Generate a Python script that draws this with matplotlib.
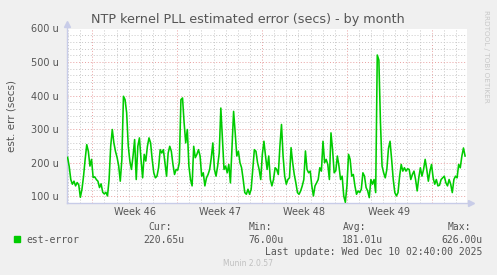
import matplotlib
matplotlib.use("Agg")
import matplotlib.pyplot as plt
import matplotlib.dates as mdates
import matplotlib.transforms as mtransforms
import numpy as np
import pandas as pd

# est. error in microseconds, ~3h steps
est_error = [
    216, 189, 150, 136, 145, 131, 141, 134, 97, 121, 160, 210, 254, 234, 190, 210, 156, 158, 150, 145, 126,
    137, 112, 107, 112, 101, 150, 249, 299, 259, 234, 216, 191, 145, 210, 398, 388, 349, 250, 205, 180, 220,
    269, 150, 249, 274, 210, 155, 225, 205, 249, 274, 259, 210, 170, 155, 160, 185, 239, 229, 239, 200, 160,
    229, 249, 234, 195, 165, 180, 178, 200, 388, 393, 319, 259, 299, 190, 150, 131, 249, 215, 225, 239,
    220, 160, 170, 131, 155, 165, 180, 214, 259, 180, 160, 190, 229, 363, 269, 180, 190, 170, 195, 140, 249,
    353, 289, 220, 234, 200, 185, 150, 111, 106, 121, 106, 121, 180, 239, 234, 200, 180, 150, 225, 264,
    220, 180, 220, 150, 131, 150, 185, 180, 165, 249, 314, 220, 160, 136, 150, 155, 245, 200, 165, 140, 111,
    106, 116, 131, 150, 235, 180, 170, 175, 131, 101, 131, 140, 150, 185, 175, 264, 200, 210, 195,
    150, 289, 239, 170, 176, 220, 190, 150, 160, 101, 82, 131, 225, 210, 160, 165, 131, 106, 116, 111, 121,
    170, 160, 126, 116, 96, 150, 136, 150, 111, 521, 506, 319, 190, 170, 155, 180, 242, 264, 210, 150, 111,
    101, 111, 160, 195, 175, 185, 175, 182, 180, 150, 165, 175, 150, 116, 155, 185, 160, 180, 210, 180, 145,
    175, 195, 155, 136, 150, 131, 133, 150, 155, 160, 140, 131, 150, 136, 111, 150, 160, 155, 195, 185, 220,
    244, 220,
]
data_start = "2025-11-06 23:00"
data_end = "2025-12-09 18:00"
view_start = "2025-11-06 21:50"
view_end = "2025-12-09 21:50"

legend_label = "est-error"
stats_heads = ["Cur:", "Min:", "Avg:", "Max:"]
stats_vals = ["220.65u", "76.00u", "181.01u", "626.00u"]
last_update = "Last update: Wed Dec 10 02:40:00 2025"

W, H = 497, 275
BG = "#f0f0f0"
TXT = "#555555"
AXC = "#c8cce8"
GREEN = "#00cc00"

times = pd.date_range(data_start, data_end, periods=len(est_error))

fig = plt.figure(figsize=(W / 100, H / 100), dpi=100, facecolor=BG)
ax = fig.add_axes([67 / W, (H - 203) / H, 400 / W, 174.5 / H])
ax.set_facecolor("white")

ax.plot(times, est_error, color=GREEN, lw=1.15, zorder=3)

ax.set_xlim(pd.Timestamp(view_start), pd.Timestamp(view_end))
ax.set_ylim(80, 600)

# grids: minor grey, major red
ax.yaxis.set_major_locator(plt.MultipleLocator(100))
ax.yaxis.set_minor_locator(plt.MultipleLocator(20))
ax.yaxis.set_major_formatter(plt.FuncFormatter(lambda v, p: f"{int(v)} u"))
ax.xaxis.set_major_locator(mdates.WeekdayLocator(byweekday=mdates.SU))
ax.xaxis.set_minor_locator(mdates.DayLocator())
ax.xaxis.set_major_formatter(plt.NullFormatter())

ax.grid(which="minor", color="#c8c8c8", ls=(0, (1, 2)), lw=0.7, zorder=1)
ax.grid(which="major", color="#e8a0a0", ls=(0, (1, 2)), lw=0.7, zorder=2)
ax.tick_params(which="both", length=0)
ax.tick_params(axis="y", labelsize=7, labelcolor=TXT, pad=6)

for s in ("top", "right"):
    ax.spines[s].set_visible(False)
for s in ("left", "bottom"):
    ax.spines[s].set_color(AXC)
    ax.spines[s].set_linewidth(1.0)
ax.plot([0], [1.025], marker="^", ms=4, color=AXC, transform=ax.transAxes, clip_on=False)
ax.plot([1.01], [0], marker=">", ms=4, color=AXC, transform=ax.transAxes, clip_on=False)

# week labels centred in each week
trans = mtransforms.blended_transform_factory(ax.transData, ax.transAxes)
for sun in pd.date_range(view_start, view_end, freq="W-SUN"):
    mid = sun.normalize() + pd.Timedelta(hours=84)
    if pd.Timestamp(view_start) < mid < pd.Timestamp(view_end):
        ax.text(mid, -0.05, "Week %s" % mid.strftime("%V"), transform=trans, ha="center",
                va="center", fontsize=7, color=TXT)

ax.set_ylabel("est. err (secs)", fontsize=7.5, color=TXT, labelpad=10)

fig.text(248 / W, 1 - 19 / H, "NTP kernel PLL estimated error (secs) - by month",
         ha="center", va="center", fontsize=9.2, color=TXT)
fig.text(486 / W, 1 - 56 / H, "RRDTOOL / TOBI OETIKER", rotation=270, ha="center",
         va="center", fontsize=5.2, color="#c8c8c8")

# legend block
fig.patches.append(plt.Rectangle((14 / W, 1 - 242 / H), 6 / W, 6 / H, color=GREEN,
                                 transform=fig.transFigure, figure=fig))
mono = "DejaVu Sans Mono"
fig.text(26 / W, 1 - 240 / H, legend_label, family=mono, fontsize=7, color=TXT, va="center")
head_x = [160, 260, 355, 459]
val_x = [184, 284, 383, 482]
for hx, vx, h, v in zip(head_x, val_x, stats_heads, stats_vals):
    fig.text(hx / W, 1 - 227 / H, h, family=mono, fontsize=7, color=TXT, ha="center", va="center")
    fig.text(vx / W, 1 - 240 / H, v, family=mono, fontsize=7, color=TXT, ha="right", va="center")
fig.text(482 / W, 1 - 252 / H, last_update, family=mono, fontsize=7, color=TXT, ha="right", va="center")
fig.text(248 / W, 1 - 264 / H, "Munin 2.0.57", fontsize=5.5, color="#c0c0c0", ha="center", va="center")

fig.savefig("out.png", dpi=100, facecolor=BG)
